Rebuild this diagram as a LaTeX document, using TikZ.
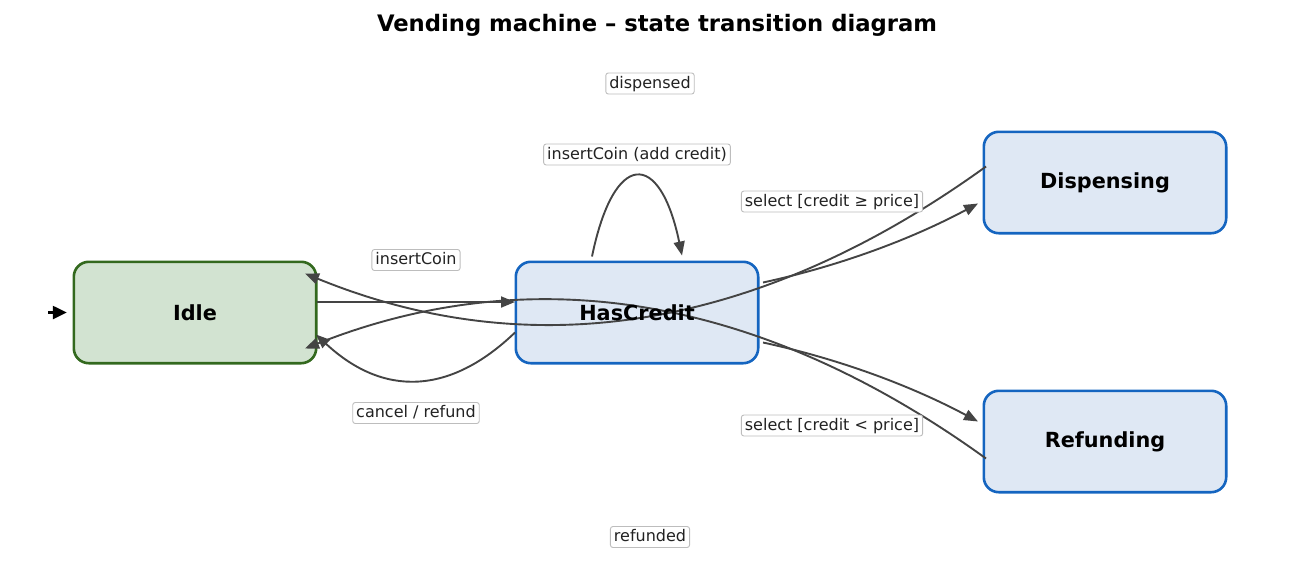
\documentclass[tikz,border=0pt]{standalone}
\usepackage{fontspec}
\setmainfont{DejaVu Sans}
\usetikzlibrary{arrows.meta,calc}
\definecolor{edgec}{HTML}{444444}
\definecolor{greenfill}{HTML}{D2E3D1}
\definecolor{greenline}{HTML}{33691E}
\definecolor{bluefill}{HTML}{DFE8F4}
\definecolor{blueline}{HTML}{1565C0}
\definecolor{lblborder}{HTML}{BDBDBD}
\definecolor{lbltext}{HTML}{222222}
\pgfdeclarelayer{bg}
\pgfdeclarelayer{edges}
\pgfsetlayers{bg,edges,main}
\begin{document}
\begin{tikzpicture}[x=1pt,y=-1pt,
  state/.style={minimum width=242pt, minimum height=101pt, inner sep=0pt,
    font=\fontsize{20.8}{24}\selectfont\bfseries},
  boxbase/.style={rounded corners=15pt, line width=2.6pt},
  greenbox/.style={boxbase, draw=greenline, fill=greenfill},
  bluebox/.style={boxbase, draw=blueline, fill=bluefill},
  edge/.style={draw=edgec, line width=1.9pt, -{Triangle[length=14pt,width=11pt]}},
  initedge/.style={draw=black, line width=2.4pt, -{Triangle[length=14pt,width=13pt]}},
  lbl/.style={draw=lblborder, fill=white, rounded corners=2.5pt, line width=0.9pt,
    inner xsep=3.5pt, inner ysep=2.8pt, text height=12.2pt, text depth=3.2pt,
    text=lbltext, font=\fontsize{16}{19}\selectfont}
]
\useasboundingbox (0,0) rectangle (1313,584);

\node (title) at (657,25.5) {\fontsize{22.7}{26}\selectfont\bfseries Vending machine – state transition diagram};

\node[state] (idle) at (195,312.5) {Idle};
\node[state] (hasc) at (637,312.5) {HasCredit};
\node[state] (disp) at (1105,182.5) {Dispensing};
\node[state] (refu) at (1105,441.5) {Refunding};

\begin{pgfonlayer}{bg}
\path[greenbox] (idle.south west) rectangle (idle.north east);
\path[bluebox] (hasc.south west) rectangle (hasc.north east);
\path[bluebox] (disp.south west) rectangle (disp.north east);
\path[bluebox] (refu.south west) rectangle (refu.north east);
\end{pgfonlayer}

\coordinate (init) at (48,312.5);

\begin{pgfonlayer}{edges}
\draw[initedge] (init) -- ($(idle.west)+(-7,0)$);
% insertCoin
\draw[edge] ($(idle.center)+(122,-10.5)$) -- ($(hasc.center)+(-122,-10.5)$);
% cancel / refund
\draw[edge] ($(hasc.center)+(-122,20)$) .. controls ($(hasc.center)+(-188,83.3)$) and ($(idle.center)+(187.7,84)$) .. ($(idle.center)+(121,22)$);
% self loop
\draw[edge] ($(hasc.center)+(-45,-56)$) .. controls ($(hasc.center)+(-23,-163)$) and ($(hasc.center)+(23,-163)$) .. ($(hasc.center)+(45,-57)$);
% select >=
\draw[edge] ($(hasc.center)+(126,-30)$) .. controls ($(hasc.center)+(201.3,-46.3)$) and ($(disp.center)+(-195,57.3)$) .. ($(disp.center)+(-127,21)$);
% select <
\draw[edge] ($(hasc.center)+(126,30)$) .. controls ($(hasc.center)+(201.3,46.3)$) and ($(refu.center)+(-195,-56.3)$) .. ($(refu.center)+(-127,-20)$);
% dispensed
\draw[edge] ($(disp.center)+(-119,-16)$) .. controls ($(disp.center)+(-346.3,148)$) and ($(idle.center)+(336.7,53.7)$) .. ($(idle.center)+(110,-39)$);
% refunded
\draw[edge] ($(refu.center)+(-119,17)$) .. controls ($(refu.center)+(-346.3,-147)$) and ($(idle.center)+(336.7,-53.7)$) .. ($(idle.center)+(110,36)$);
\end{pgfonlayer}

\node[lbl] (l1) at (650,83.5) {dispensed};
\node[lbl] (l2) at (637,154.5) {insertCoin (add credit)};
\node[lbl] (l3) at (832,201.5) {select [credit ≥ price]};
\node[lbl] (l4) at (416,260) {insertCoin};
\node[lbl] (l5) at (416,413) {cancel / refund};
\node[lbl] (l6) at (832,425.5) {select [credit < price]};
\node[lbl] (l7) at (650,537) {refunded};
\end{tikzpicture}
\end{document}
